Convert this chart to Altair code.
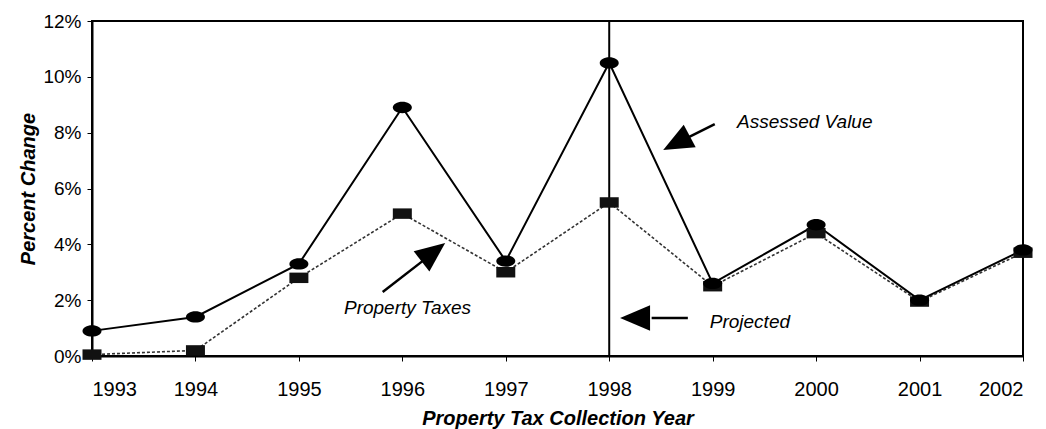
import altair as alt
import pandas as pd

# ---- data ----
years = [1993, 1994, 1995, 1996, 1997, 1998, 1999, 2000, 2001, 2002]
assessed_value = [0.9, 1.4, 3.3, 8.9, 3.4, 10.5, 2.6, 4.7, 2.0, 3.8]      # percent
property_taxes = [0.05, 0.2, 2.8, 5.1, 3.0, 5.5, 2.5, 4.4, 1.95, 3.7]     # percent
y_ticks = [0, 0.02, 0.04, 0.06, 0.08, 0.10, 0.12]
projected_year = 1998

df_av = pd.DataFrame({"year": years, "pct": [v / 100 for v in assessed_value]})
df_pt = pd.DataFrame({"year": years, "pct": [v / 100 for v in property_taxes]})

# ---- annotations (in data units) ----
ann_text = pd.DataFrame({
    "year": [1999.89, 1996.05, 1999.36],
    "pct": [0.0838, 0.0172, 0.0122],
    "label": ["Assessed Value", "Property Taxes", "Projected"],
})
ann_lines = pd.DataFrame({
    "arrow": ["a", "a", "b", "b", "c", "c"],
    "year": [1999.02, 1998.73, 1995.81, 1996.22, 1998.41, 1998.76],
    "pct": [0.0831, 0.0777, 0.0229, 0.0347, 0.0136, 0.0136],
})
ann_heads = pd.DataFrame({
    "year": [1998.65, 1996.30, 1998.25],
    "pct": [0.0763, 0.0372, 0.0136],
    "angle": [242, 52, 270],
})

FONT = "Liberation Sans"

x = alt.X("year:Q",
          scale=alt.Scale(domain=[1993, 2002], nice=False, zero=False),
          axis=alt.Axis(values=years, format="d", title="Property Tax Collection Year",
                        grid=False, labelFontSize=20, labelFont=FONT, labelColor="black",
                        tickSize=5, tickColor="black", labelPadding=18,
                        titleFont=FONT, titleFontSize=20, titleFontWeight="bold",
                        titleFontStyle="italic", titleColor="black", titlePadding=9,
                        domainColor="black", domainWidth=2))
y = alt.Y("pct:Q",
          scale=alt.Scale(domain=[0, 0.12], nice=False),
          axis=alt.Axis(values=y_ticks, format=".0%", title="Percent Change",
                        grid=False, labelFontSize=19, labelFont=FONT, labelColor="black",
                        tickSize=5, tickColor="black", labelPadding=6,
                        titleFont=FONT, titleFontSize=20, titleFontWeight="bold",
                        titleFontStyle="italic", titleColor="black", titlePadding=4,
                        domainColor="black", domainWidth=2))

ellipse = "M-1,0 A1,0.6 0 1,1 1,0 A1,0.6 0 1,1 -1,0 Z"
rect = "M-1,-0.55 L1,-0.55 L1,0.55 L-1,0.55 Z"
head = "M0,-1 L0.85,1 L-0.85,1 Z"

pt_line = alt.Chart(df_pt).mark_line(color="#333333", strokeWidth=1.6, strokeDash=[3, 2]).encode(x=x, y=y)
av_line = alt.Chart(df_av).mark_line(color="black", strokeWidth=2).encode(x=x, y=y)
pt_pts = alt.Chart(df_pt).mark_point(shape=rect, size=361, filled=True, color="#111111", opacity=1).encode(x=x, y=y)
av_pts = alt.Chart(df_av).mark_point(shape=ellipse, size=361, filled=True, color="black", opacity=1).encode(x=x, y=y)

rule = alt.Chart(pd.DataFrame({"year": [projected_year]})).mark_rule(color="black", strokeWidth=2).encode(x="year:Q")

texts = alt.Chart(ann_text).mark_text(font=FONT, fontSize=19, fontStyle="italic", color="black").encode(
    x="year:Q", y="pct:Q", text="label:N")
arrow_lines = alt.Chart(ann_lines).mark_line(color="black", strokeWidth=2.5).encode(
    x="year:Q", y="pct:Q", detail="arrow:N")
arrow_heads = alt.Chart(ann_heads).mark_point(shape=head, size=900, filled=True, color="black", opacity=1).encode(
    x="year:Q", y="pct:Q", angle=alt.Angle("angle:Q", scale=None))

chart = alt.layer(pt_line, av_line, rule, pt_pts, av_pts, arrow_lines, arrow_heads, texts).properties(
    width=931, height=335,
    autosize=alt.AutoSizeParams(type="none"),
    padding={"left": 84, "top": 13, "right": 15, "bottom": 73},
    background="white",
).configure_view(stroke="black", strokeWidth=2)

chart.save("out.html", embed_options={"renderer": "svg", "actions": False})
